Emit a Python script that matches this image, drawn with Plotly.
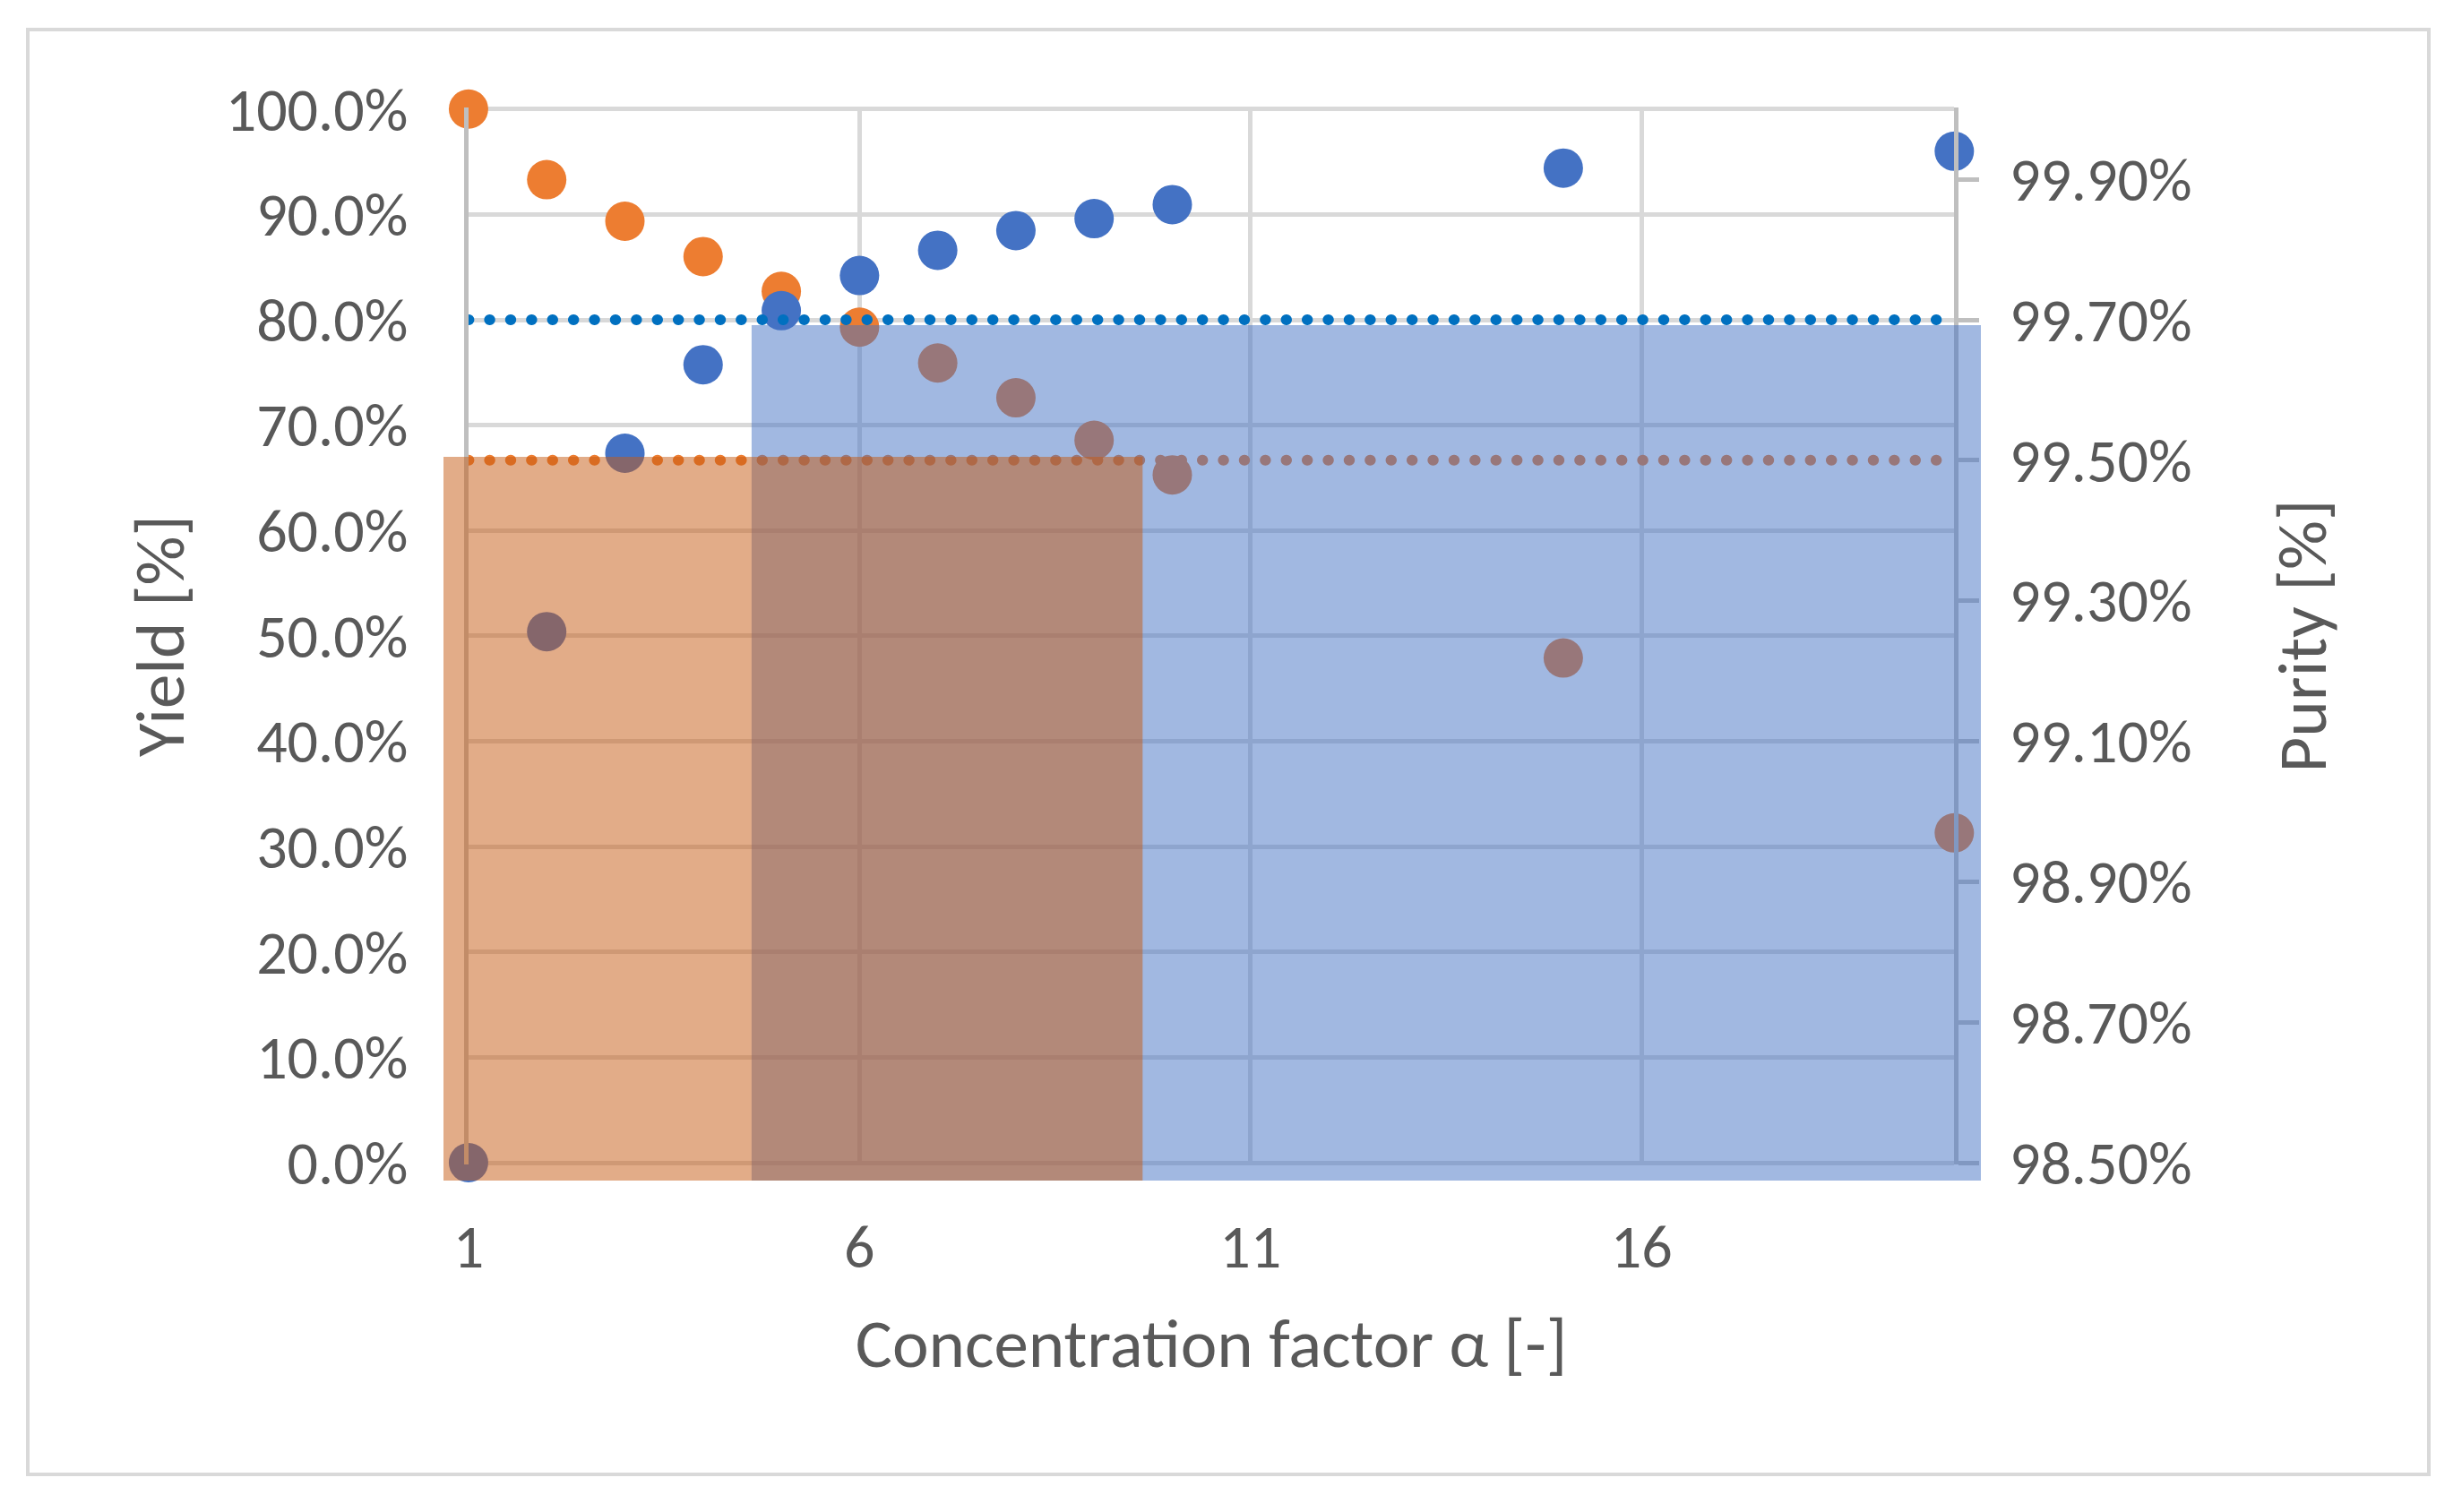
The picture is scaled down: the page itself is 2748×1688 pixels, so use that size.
import plotly.graph_objects as go

# ---------------- data ----------------
alpha = [1, 2, 3, 4, 5, 6, 7, 8, 9, 10, 15, 20]
yield_frac = [1.000, 0.933, 0.8935, 0.860, 0.827, 0.793, 0.759, 0.726, 0.6857, 0.6528, 0.479, 0.313]
purity_pct = [98.50, 99.256, 99.510, 99.636, 99.713, 99.763, 99.799, 99.827, 99.844, 99.864, 99.916, 99.940]

purity_limit = 99.70      # blue dotted threshold (right axis)
yield_limit = 0.6667      # orange dotted threshold (left axis)

# highlighted windows (x in alpha units, y in yield fraction)
blue_window_x = [4.62, 20.34]
blue_window_y = [-0.017, 0.795]
orange_window_x = [0.68, 9.62]
orange_window_y = [-0.017, 0.670]

x_range = [1, 20]
yield_range = [0.0, 1.0]
purity_range = [98.5, 100.0]
x_tick0, x_dtick = 1, 5
yield_dtick = 0.1
purity_dtick = 0.2

# ---------------- styling ----------------
FONT = "Carlito, Calibri, Lato, sans-serif"
TXT = "#595959"
GRID = "#D9D9D9"
AXL = "#BFBFBF"
BLUE = "#4472C4"
ORANGE = "#ED7D31"

W, H = 2748, 1688
ML, MR, MT, MB = 495, 537, 120, 370

# tiny padding so the 0 % and 100 % gridlines are not dropped at the axis ends
pad = 0.0015
y_axis_range = [yield_range[0] - pad, yield_range[1] + pad]
scale = (purity_range[1] - purity_range[0]) / (yield_range[1] - yield_range[0])
y2_axis_range = [purity_range[0] - pad * scale, purity_range[1] + pad * scale]

outer_x = [min(blue_window_x[0], orange_window_x[0]), max(blue_window_x[1], orange_window_x[1])]
outer_y = [min(blue_window_y[0], orange_window_y[0]), y_axis_range[1]]
xdom = [(x_range[0] - outer_x[0]) / (outer_x[1] - outer_x[0]),
        (x_range[1] - outer_x[0]) / (outer_x[1] - outer_x[0])]
ydom = [(y_axis_range[0] - outer_y[0]) / (outer_y[1] - outer_y[0]), 1.0]

fig = go.Figure()

fig.add_trace(go.Scatter(x=alpha, y=purity_pct, yaxis="y2", mode="markers",
                         marker=dict(size=44, color=BLUE), cliponaxis=False,
                         name="Purity", showlegend=False))
fig.add_trace(go.Scatter(x=alpha, y=yield_frac, mode="markers",
                         marker=dict(size=44, color=ORANGE), cliponaxis=False,
                         name="Yield", showlegend=False))
fig.add_trace(go.Scatter(x=x_range, y=[purity_limit] * 2, yaxis="y2", mode="lines",
                         line=dict(color="#0070C0", width=12, dash="0.5px,22.9px"),
                         showlegend=False))
fig.add_trace(go.Scatter(x=x_range, y=[yield_limit] * 2, mode="lines",
                         line=dict(color=ORANGE, width=12, dash="0.5px,22.9px"),
                         showlegend=False))
# helper subplot spanning the whole plotting area for the highlight windows
fig.add_trace(go.Scatter(x=[], y=[], xaxis="x2", yaxis="y3", showlegend=False,
                         hoverinfo="skip"))

fig.add_shape(type="rect", xref="x2", yref="y3",
              x0=blue_window_x[0], x1=blue_window_x[1], y0=blue_window_y[0], y1=blue_window_y[1],
              fillcolor="rgba(68,114,196,0.5)", line=dict(width=0), layer="above")
fig.add_shape(type="rect", xref="x2", yref="y3",
              x0=orange_window_x[0], x1=orange_window_x[1], y0=orange_window_y[0], y1=orange_window_y[1],
              fillcolor="rgba(197,90,17,0.5)", line=dict(width=0), layer="above")

# chart-area border
pw, ph = W - ML - MR, H - MT - MB
fig.add_shape(type="rect", xref="paper", yref="paper",
              x0=(31 - ML) / pw, x1=(2711 - ML) / pw,
              y0=(H - MB - 1646) / ph, y1=(H - MB - 33) / ph,
              line=dict(color=GRID, width=4), fillcolor="rgba(0,0,0,0)", layer="below")

tickfont = dict(family=FONT, size=68, color=TXT)
titlefont = dict(family=FONT, size=77, color=TXT)

fig.update_layout(
    width=W, height=H,
    margin=dict(l=ML, r=MR, t=MT, b=MB, autoexpand=False),
    paper_bgcolor="white", plot_bgcolor="rgba(0,0,0,0)",
    font=dict(family=FONT, color=TXT),
    showlegend=False,
    xaxis=dict(domain=xdom, range=x_range, tick0=x_tick0, dtick=x_dtick,
               showgrid=True, gridcolor=GRID, gridwidth=5, zeroline=False,
               showline=False, ticks="", tickfont=tickfont, ticklabelstandoff=46,
               title=dict(text="Concentration factor α [-]", font=titlefont, standoff=40),
               anchor="y"),
    yaxis=dict(domain=ydom, range=y_axis_range, tick0=0, dtick=yield_dtick, tickformat=".1%",
               showgrid=True, gridcolor=GRID, gridwidth=5, zeroline=False,
               showline=True, linecolor=AXL, linewidth=5, ticks="",
               tickfont=tickfont, ticklabelstandoff=49,
               title=dict(text="Yield [%]", font=titlefont, standoff=22), anchor="x"),
    yaxis2=dict(overlaying="y", side="right", anchor="x", range=y2_axis_range,
                tick0=purity_range[0], dtick=purity_dtick, tickformat=".2f", ticksuffix="%",
                showgrid=False, zeroline=False, showline=True, linecolor=AXL, linewidth=5,
                ticks="outside", ticklen=23, tickwidth=5, tickcolor=AXL,
                tickfont=tickfont, ticklabelstandoff=20,
                title=dict(text="Purity [%]", font=titlefont, standoff=98)),
    xaxis2=dict(domain=[0, 1], range=outer_x, anchor="y3", visible=False),
    yaxis3=dict(domain=[0, 1], range=outer_y, anchor="x2", visible=False),
)

round_dots = """
document.body.style.margin='0';
document.querySelectorAll('.scatterlayer .js-line').forEach(function(p){
  p.style.strokeLinecap='round';
});
"""
fig.write_html("out.html", config={"displayModeBar": False}, post_script=round_dots)
